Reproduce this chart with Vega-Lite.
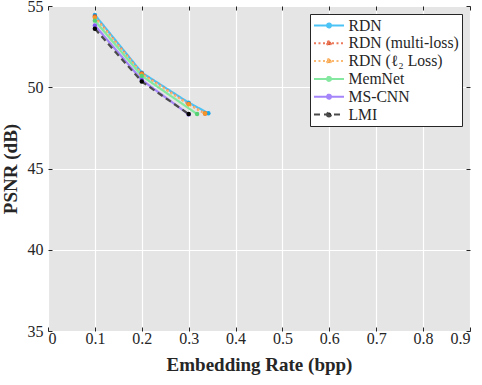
{
  "$schema": "https://vega.github.io/schema/vega-lite/v6.json",
  "width": 422,
  "height": 325,
  "autosize": {"type": "none"},
  "padding": {"left": 48, "top": 6, "right": 12, "bottom": 54},
  "background": "white",
  "config": {
    "view": {"fill": "#e5e5e5", "stroke": "#262626", "strokeWidth": 1},
    "style": {"guide-label": {"font": "Liberation Serif"}, "guide-title": {"font": "Liberation Serif"}},
    "axis": {
      "labelFont": "Liberation Serif",
      "labelFontSize": 16,
      "labelColor": "#262626",
      "titleFont": "Liberation Serif",
      "titleFontSize": 19,
      "titleFontWeight": "bold",
      "titleColor": "#262626",
      "domain": false,
      "gridColor": "#ffffff",
      "gridWidth": 1.2,
      "tickColor": "#262626",
      "tickSize": -4
    },
    "legend": {
      "labelFont": "Liberation Serif",
      "labelFontSize": 15.7,
      "labelColor": "#262626"
    }
  },
  "data": {
    "values": [
      {"method": "RDN", "x": 0.1, "y": 54.45},
      {"method": "RDN", "x": 0.2, "y": 50.9},
      {"method": "RDN", "x": 0.3, "y": 49.05},
      {"method": "RDN", "x": 0.342, "y": 48.4},
      {"method": "RDN (multi-loss)", "x": 0.1, "y": 54.35},
      {"method": "RDN (multi-loss)", "x": 0.2, "y": 50.85},
      {"method": "RDN (multi-loss)", "x": 0.3, "y": 48.97},
      {"method": "RDN (multi-loss)", "x": 0.335, "y": 48.38},
      {"method": "RDN (ℓ₂ Loss)", "x": 0.1, "y": 54.3},
      {"method": "RDN (ℓ₂ Loss)", "x": 0.2, "y": 50.8},
      {"method": "RDN (ℓ₂ Loss)", "x": 0.3, "y": 48.95},
      {"method": "RDN (ℓ₂ Loss)", "x": 0.335, "y": 48.38},
      {"method": "MemNet", "x": 0.1, "y": 54.1},
      {"method": "MemNet", "x": 0.2, "y": 50.7},
      {"method": "MemNet", "x": 0.318, "y": 48.35},
      {"method": "MS-CNN", "x": 0.1, "y": 53.8},
      {"method": "MS-CNN", "x": 0.2, "y": 50.45},
      {"method": "MS-CNN", "x": 0.3, "y": 48.33},
      {"method": "LMI", "x": 0.1, "y": 53.6},
      {"method": "LMI", "x": 0.2, "y": 50.35},
      {"method": "LMI", "x": 0.3, "y": 48.35}
    ]
  },
  "resolve": {"axis": {"x": "independent", "y": "independent"}},
  "layer": [
    {
      "mark": {"type": "line", "strokeWidth": 2.2, "clip": true},
      "encoding": {
        "x": {
          "field": "x", "type": "quantitative",
          "scale": {"domain": [0, 0.9], "nice": false, "zero": false},
          "axis": {"title": "Embedding Rate (bpp)", "values": [0, 0.1, 0.2, 0.3, 0.4, 0.5, 0.6, 0.7, 0.8, 0.9], "format": ".1~f", "labelPadding": 3, "titlePadding": 9}
        },
        "y": {
          "field": "y", "type": "quantitative",
          "scale": {"domain": [35, 55], "nice": false, "zero": false},
          "axis": {"title": "PSNR (dB)", "values": [35, 40, 45, 50, 55], "labelPadding": 9, "titlePadding": 7}
        },
        "stroke": {
          "field": "method", "type": "nominal",
          "scale": {
            "domain": ["RDN", "RDN (multi-loss)", "RDN (ℓ₂ Loss)", "MemNet", "MS-CNN", "LMI"],
            "range": ["#4cc3f5", "#ec7a5c", "#fbb870", "#85e8a0", "#a585fa", "#4a4a4a"]
          },
          "legend": {
            "title": null,
            "orient": "top-right",
            "offset": 8,
            "fillColor": "#ffffff",
            "strokeColor": "#262626",
            "padding": 3,
            "symbolType": "M-2,0H2M-0.27,0A0.27,0.27 0 1,0 0.27,0A0.27,0.27 0 1,0 -0.27,0",
            "symbolSize": 225,
            "symbolOffset": 7.5,
            "symbolStrokeWidth": 2,
            "labelOffset": 11,
            "rowPadding": 0.8,
            "labelFont": "Liberation Serif",
            "encode": {"symbols": {"update": {"fill": {"scale": "fill", "field": "value"}}}}
          }
        },
        "strokeDash": {
          "field": "method", "type": "nominal",
          "scale": {
            "domain": ["RDN", "RDN (multi-loss)", "RDN (ℓ₂ Loss)", "MemNet", "MS-CNN", "LMI"],
            "range": [[1, 0], [2, 2.5], [2, 2.5], [1, 0], [1, 0], [6, 4]]
          },
          "legend": null
        }
      }
    },
    {
      "mark": {"type": "point", "filled": true, "size": 20, "opacity": 1},
      "encoding": {
        "x": {"field": "x", "type": "quantitative",
          "axis": {"orient": "top", "title": null, "labels": false, "grid": false, "values": [0, 0.1, 0.2, 0.3, 0.4, 0.5, 0.6, 0.7, 0.8, 0.9]}},
        "y": {"field": "y", "type": "quantitative",
          "axis": {"orient": "right", "title": null, "labels": false, "grid": false, "values": [35, 40, 45, 50, 55]}},
        "fill": {
          "field": "method", "type": "nominal",
          "scale": {
            "domain": ["RDN", "RDN (multi-loss)", "RDN (ℓ₂ Loss)", "MemNet", "MS-CNN", "LMI"],
            "range": ["#1ca8e8", "#d54a1e", "#f5962a", "#55d075", "#8055f0", "#000000"]
          },
          "legend": null
        }
      }
    }
  ]
}
